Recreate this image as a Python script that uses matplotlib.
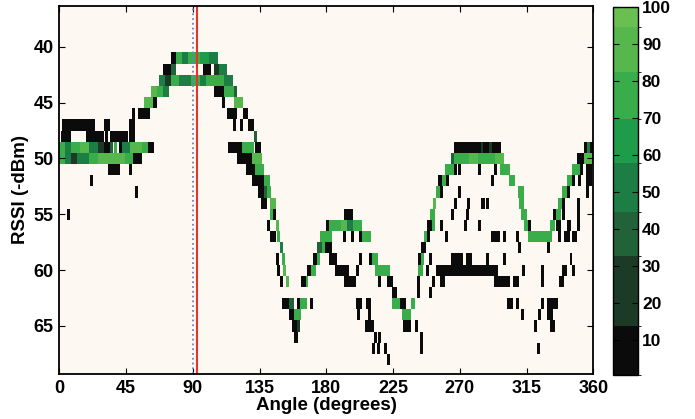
import numpy as np
import matplotlib
matplotlib.use("Agg")
import matplotlib.pyplot as plt
from matplotlib.colors import ListedColormap, BoundaryNorm

plt.rcParams['font.family'] = ['Liberation Sans', 'DejaVu Sans']
plt.rcParams['font.weight'] = 'bold'

# cells: (rssi, start angle, stop angle, percentage)
left_lobe = [
    (46, 49, 51, 5),
    (47, 2, 24, 5), (47, 30, 34, 5), (47, 47, 51, 5),
    (48, 1, 8, 5), (48, 18, 30, 5), (48, 31, 33, 5), (48, 34, 46, 5), (48, 47, 51, 5),
    (49, 0, 4, 75), (49, 4, 8, 45), (49, 8, 14, 80), (49, 14, 20, 90), (49, 20, 26, 45),
    (49, 26, 30, 25), (49, 30, 34, 5), (49, 34, 36, 40), (49, 37, 39, 75), (49, 40, 42, 5),
    (49, 42, 48, 50), (49, 48, 56, 90), (49, 56, 60, 75), (49, 60, 64, 5),
    (50, 0, 4, 80), (50, 4, 8, 55), (50, 8, 12, 25), (50, 12, 20, 45), (50, 20, 26, 75),
    (50, 26, 34, 90), (50, 34, 44, 85), (50, 44, 50, 75), (50, 50, 56, 5),
    (51, 33, 41, 5), (51, 47, 49, 5), (52, 21, 23, 5), (53, 51, 53, 5), (55, 5, 7, 5),
]

main_lobe = [
    (46, 53, 61, 5), (45, 57, 63, 85), (45, 63, 66, 5),
    (44, 62, 66, 90), (44, 66, 70, 80), (44, 70, 74, 50),
    (43, 67, 71, 45), (43, 71, 75, 30), (43, 75, 81, 70), (43, 81, 89, 50), (43, 89, 95, 75),
    (43, 95, 99, 45), (43, 99, 105, 70), (43, 105, 111, 80), (43, 111, 117, 55),
    (42, 70, 75, 5), (42, 75, 79, 40), (42, 97, 102, 5), (42, 104, 108, 30), (42, 108, 113, 50),
    (41, 75, 79, 5), (41, 79, 83, 70), (41, 83, 87, 55), (41, 87, 95, 75), (41, 95, 101, 65),
    (41, 101, 107, 50),
    (44, 104, 111, 5), (44, 111, 118, 75), (44, 118, 120, 35),
    (45, 110, 112, 5), (45, 118, 124, 88),
    (46, 113, 120, 5), (46, 124, 127, 5),
    (47, 117, 119, 5), (47, 122, 124, 5), (47, 127, 131, 5),
    (48, 131, 133, 40),
    (49, 114, 123, 5), (49, 123, 131, 75), (49, 132, 136, 5),
    (50, 120, 130, 5), (50, 130, 137, 85),
    (51, 126, 132, 5), (51, 132, 138, 80),
    (52, 130, 138, 5), (52, 138, 142, 75),
    (53, 134, 138, 5), (53, 138, 140, 40), (53, 140, 143, 80),
    (54, 136, 140, 5), (54, 142, 146, 85),
]

valley_1 = [
    (55, 142, 144, 75), (55, 144, 146, 5),
    (56, 140, 142, 5), (56, 146, 148, 85),
    (57, 142, 146, 5), (57, 147, 149, 80),
    (58, 149, 151, 45),
    (59, 146, 148, 5), (59, 150, 152, 75),
    (60, 147, 149, 5), (60, 151, 153, 85),
    (61, 149, 151, 5), (61, 153, 155, 88),
    (63, 150, 155, 5), (63, 155, 158, 40), (63, 160, 162, 5), (63, 162, 167, 75), (63, 169, 171, 5),
    (64, 155, 158, 5), (64, 158, 163, 80),
    (65, 157, 160, 5), (65, 160, 162, 25),
    (66, 158, 161, 5),
    (61, 163, 166, 5), (61, 166, 168, 75),
    (60, 167, 170, 5), (60, 170, 173, 70),
    (59, 171, 174, 5), (59, 174, 176, 80),
    (58, 174, 177, 40), (58, 177, 179, 80), (58, 179, 184, 5),
    (57, 176, 184, 80),
    (56, 180, 182, 5), (56, 182, 190, 75), (56, 190, 194, 88), (56, 194, 198, 45), (56, 198, 204, 80),
    (55, 192, 198, 5),
    (57, 191, 193, 5), (57, 197, 199, 5), (57, 202, 204, 5), (57, 204, 210, 80),
    (59, 182, 187, 5), (59, 202, 204, 5), (59, 209, 211, 5), (59, 211, 215, 80),
    (60, 186, 195, 5), (60, 200, 202, 5), (60, 213, 223, 80),
    (61, 192, 200, 5), (61, 215, 217, 5), (61, 221, 225, 5),
    (62, 224, 228, 5),
    (63, 200, 204, 5), (63, 207, 210, 5), (63, 224, 230, 80), (63, 230, 234, 5), (63, 237, 240, 75),
    (64, 201, 203, 5), (64, 208, 210, 5), (64, 231, 237, 80),
    (65, 206, 212, 5), (65, 232, 237, 5), (65, 240, 242, 5),
    (66, 212, 214, 5), (66, 215, 217, 5), (66, 243, 245, 5),
    (67, 211, 213, 5), (67, 214, 216, 5), (67, 219, 221, 5), (67, 243, 245, 5),
    (68, 221, 223, 5),
]

lobe_2 = [
    (62, 241, 243, 5), (62, 249, 251, 5),
    (61, 241, 243, 5), (61, 251, 253, 5),
    (60, 242, 245, 80), (60, 247, 249, 5),
    (59, 242, 244, 5), (59, 244, 246, 75), (59, 249, 251, 5),
    (58, 244, 247, 5),
    (57, 246, 248, 80), (57, 248, 250, 5), (57, 260, 262, 5),
    (56, 248, 251, 5), (56, 251, 253, 70), (56, 257, 259, 5), (56, 273, 275, 5), (56, 282, 284, 5),
    (55, 250, 253, 80), (55, 264, 266, 5), (55, 274, 276, 5),
    (54, 252, 254, 85), (54, 266, 268, 5), (54, 275, 277, 5), (54, 284, 287, 5), (54, 288, 290, 5),
    (53, 254, 257, 80), (53, 257, 259, 5), (53, 269, 271, 5),
    (52, 255, 258, 5), (52, 258, 261, 75), (52, 261, 263, 5), (52, 291, 293, 5),
    (51, 260, 266, 80), (51, 266, 268, 5), (51, 269, 271, 5), (51, 282, 284, 5), (51, 293, 295, 5),
    (51, 297, 304, 80),
    (50, 264, 266, 40), (50, 266, 276, 80), (50, 276, 282, 88), (50, 282, 290, 80),
    (50, 290, 294, 70), (50, 294, 300, 85),
    (49, 266, 284, 5), (49, 284, 286, 25), (49, 286, 290, 5), (49, 290, 292, 30), (49, 292, 298, 5),
    (52, 303, 307, 80), (53, 309, 313, 75), (54, 310, 313, 80), (55, 311, 315, 80),
    (56, 313, 316, 80), (56, 316, 318, 5),
    (57, 291, 297, 5), (57, 299, 301, 5), (57, 308, 310, 5), (57, 316, 332, 80),
    (58, 309, 311, 5), (58, 329, 331, 5),
    (59, 264, 272, 5), (59, 274, 278, 5), (59, 288, 290, 5), (59, 299, 301, 5), (59, 344, 346, 5),
    (60, 254, 296, 5), (60, 312, 314, 5), (60, 325, 327, 5), (60, 339, 342, 5), (60, 346, 348, 5),
    (61, 257, 260, 5), (61, 293, 304, 5), (61, 306, 310, 5), (61, 325, 327, 5), (61, 337, 340, 5),
    (63, 302, 306, 5), (63, 308, 310, 5), (63, 325, 327, 5), (63, 329, 336, 5),
    (64, 311, 313, 5), (64, 323, 325, 5), (64, 329, 333, 5),
    (65, 320, 322, 5), (65, 331, 334, 5),
    (67, 322, 324, 5),
]

right_edge = [
    (54, 336, 339, 80), (54, 339, 341, 5), (54, 349, 351, 5),
    (53, 339, 342, 80), (53, 342, 344, 5), (53, 355, 357, 5),
    (52, 342, 346, 80), (52, 346, 348, 5), (52, 350, 352, 5), (52, 355, 359, 5),
    (51, 346, 351, 80), (51, 351, 353, 5), (51, 355, 359, 5),
    (50, 349, 354, 5), (50, 354, 360, 85),
    (49, 354, 356, 5), (49, 356, 358, 45), (49, 358, 360, 5),
    (55, 333, 335, 5), (55, 335, 338, 80), (55, 339, 341, 5), (55, 349, 351, 5),
    (56, 331, 334, 80), (56, 335, 338, 5), (56, 342, 345, 5), (56, 349, 351, 5),
    (57, 336, 338, 5), (57, 340, 344, 5), (57, 346, 349, 5),
]

rssi_levels = np.arange(37, 70)
angles = np.arange(0, 361)
bar_bounds = [0.6, 13.9, 32.6, 44.7, 57.7, 69.8, 82.3, 94.4, 100]
bar_colors = ['#0b0b0b', '#1b3b27', '#216239', '#1c7e45', '#1f9c4a', '#3aad4b', '#55b74c', '#69c050']
bar_ticks = list(range(10, 101, 10))
ref_angle = 90
est_angle = 93

# fill the grid
grid = np.full((len(rssi_levels), len(angles) - 1), np.nan)
for r, a0, a1, v in left_lobe + main_lobe + valley_1 + lobe_2 + right_edge:
    grid[r - rssi_levels[0], a0:a1] = v

cmap = ListedColormap(bar_colors)
norm = BoundaryNorm(bar_bounds, cmap.N)

fig = plt.figure(figsize=(6.95, 4.19), dpi=100)
ax = fig.add_axes([0.0853, 0.1074, 0.7683, 0.8783])
ax.set_facecolor('#fdf8f1')
y_edges = np.append(rssi_levels - 0.5, rssi_levels[-1] + 0.5)
mesh = ax.pcolormesh(angles, y_edges, np.ma.masked_invalid(grid), cmap=cmap, norm=norm)

ax.axvline(ref_angle, color='#6a84c8', ls=':', lw=1.3)
ax.axvline(est_angle, color='#e8322a', lw=1.5)

ax.set_xlim(0, 360)
ax.set_ylim(69.3, 36.35)
ax.set_xticks(range(0, 361, 45))
ax.set_yticks(range(40, 66, 5))
ax.tick_params(direction='in', top=True, right=True, length=4, labelsize=13, pad=4)
for s in ax.spines.values():
    s.set_linewidth(1.3)
ax.set_xlabel('Angle (degrees)', fontsize=13.5, fontweight='bold', labelpad=0)
ax.set_ylabel('RSSI (-dBm)', fontsize=13.5, fontweight='bold', labelpad=3)

cax = fig.add_axes([0.8816, 0.105, 0.036, 0.879])
cb = fig.colorbar(mesh, cax=cax, boundaries=bar_bounds, spacing='proportional', ticks=bar_ticks)
cb.outline.set_linewidth(1.0)
cax.tick_params(direction='in', left=True, right=True, length=4, labelsize=12.5, pad=3)

fig.savefig('out.png', dpi=100)
